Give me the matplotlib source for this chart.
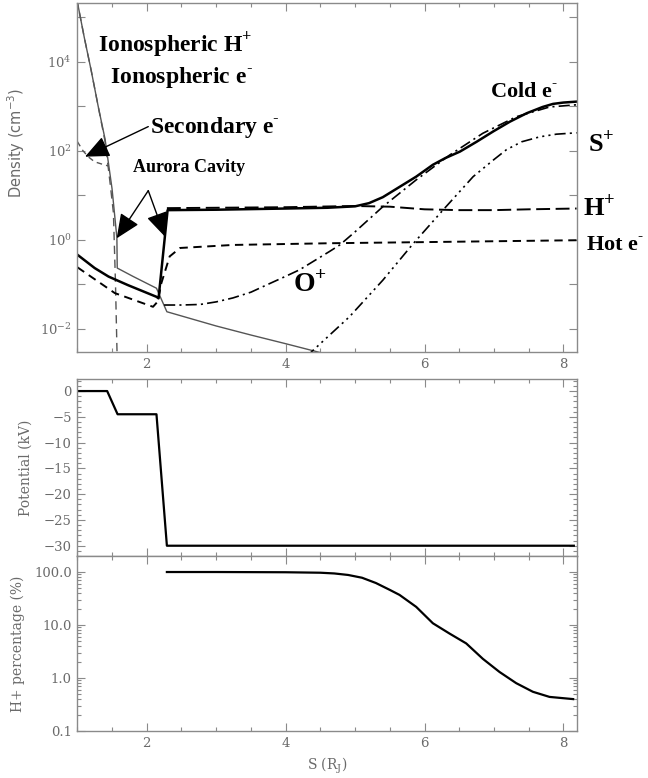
import math
import matplotlib
matplotlib.use("Agg")
import matplotlib.pyplot as plt
from matplotlib.ticker import MultipleLocator, FixedLocator, FuncFormatter, LogLocator, NullFormatter, NullLocator

plt.rcParams["font.family"] = "DejaVu Serif"
plt.rcParams["mathtext.fontset"] = "custom"
plt.rcParams["mathtext.rm"] = "DejaVu Serif"
plt.rcParams["mathtext.bf"] = "Liberation Serif:bold"
plt.rcParams["mathtext.sf"] = "DejaVu Sans"
plt.rcParams["lines.scale_dashes"] = False

# ---- density panel (cm^-3) vs S (R_J) ----
ion_h_x = [0.98, 1.1, 1.2, 1.3, 1.4, 1.5, 1.57, 1.575, 1.8, 2.14, 2.29, 3.0, 3.5, 4.0, 4.5]
ion_h_y = [3.2e5, 3.5e4, 6.3e3, 1.0e3, 180, 14, 1.1, 0.23, 0.15, 0.081, 0.024, 0.0115, 0.0072, 0.0046, 0.0029]

ion_e_x = [0.98, 1.1, 1.2, 1.3, 1.4, 1.47, 1.52, 1.55, 1.57, 1.58]
ion_e_y = [3.2e5, 3.5e4, 6.3e3, 1.0e3, 160, 20, 4.0, 0.1, 0.004, 0.001]

sec_e_x = [1.0, 1.08, 1.16, 1.25, 1.35, 1.45]
sec_e_y = [160, 100, 72, 56, 50, 45]

cold_e_x = [1.0, 1.25, 1.45, 1.73, 2.14, 2.17, 2.30, 3.0, 4.0, 4.6, 5.0, 5.2, 5.4, 5.6, 5.88,
            6.12, 6.3, 6.51, 6.75, 6.99, 7.23, 7.47, 7.7, 7.85, 8.0, 8.19]
cold_e_y = [0.46, 0.23, 0.148, 0.095, 0.052, 0.048, 4.6, 4.7, 5.0, 5.2, 5.6, 6.6, 9.0, 14, 26,
            48, 68, 95, 158, 270, 447, 690, 955, 1120, 1200, 1260]

h_x = [2.29, 3.0, 4.0, 5.0, 5.5, 6.0, 6.5, 7.0, 7.5, 8.19]
h_y = [5.1, 5.2, 5.35, 5.7, 5.5, 4.8, 4.6, 4.6, 4.8, 5.0]

hot_e_x = [1.0, 1.54, 2.09, 2.16, 2.21, 2.33, 2.48, 3.24, 4.63, 6.0, 7.0, 8.19]
hot_e_y = [0.24, 0.063, 0.031, 0.041, 0.105, 0.42, 0.65, 0.76, 0.83, 0.88, 0.92, 0.97]

o_x = [2.25, 2.5, 2.77, 3.0, 3.24, 3.5, 3.72, 4.0, 4.2, 4.63, 4.78, 5.0, 5.4, 5.88, 6.36,
       6.84, 7.32, 7.8, 8.19]
o_y = [0.034, 0.034, 0.035, 0.040, 0.049, 0.066, 0.095, 0.15, 0.21, 0.54, 0.76, 1.5, 5.5, 22, 79,
       245, 575, 955, 1070]

s_x = [4.30, 4.37, 4.92, 5.40, 5.83, 6.27, 6.70, 7.0, 7.18, 7.4, 7.66, 7.9, 8.19]
s_y = [0.0022, 0.003, 0.0186, 0.123, 0.79, 4.7, 26, 63, 105, 158, 204, 234, 251]

# ---- potential panel (kV) ----
pot_x = [1.0, 1.43, 1.58, 2.14, 2.29, 8.15]
pot_y = [0, 0, -4.5, -4.5, -30, -30]

# ---- H+ percentage panel ----
pct_x = [2.29, 3.0, 4.0, 4.5, 4.7, 4.9, 5.1, 5.3, 5.5, 5.64, 5.88, 6.12, 6.36, 6.6, 6.84,
         7.08, 7.32, 7.56, 7.8, 8.14]
pct_y = [100, 100, 99, 97, 94, 88, 78, 62, 46, 37, 22, 10.8, 6.9, 4.5, 2.3,
         1.3, 0.8, 0.55, 0.44, 0.40]

GRAY = "#8a8a8a"
TXT = "#6a6a6a"

fig = plt.figure(figsize=(6.48, 7.78), dpi=100)
ax1 = fig.add_axes([0.1193, 0.5472, 0.7716, 0.4486])
ax2 = fig.add_axes([0.1193, 0.2857, 0.7716, 0.2267])
ax3 = fig.add_axes([0.1193, 0.0604, 0.7716, 0.2253])


def style(ax):
    for sp in ax.spines.values():
        sp.set_color(GRAY)
        sp.set_linewidth(1)
    ax.tick_params(which="both", direction="in", top=True, right=True, color=GRAY,
                   labelcolor=TXT, labelsize=9.5, pad=4)
    ax.tick_params(which="major", length=6, width=0.8)
    ax.tick_params(which="minor", length=3, width=0.8)
    ax.set_xlim(1.0, 8.2)
    ax.xaxis.set_major_locator(MultipleLocator(2))
    ax.xaxis.set_minor_locator(MultipleLocator(0.5))


def decade_label(v, pos):
    k = round(math.log10(v))
    return "$10^{%d}$" % k if k % 2 == 0 else ""


for ax in (ax1, ax2, ax3):
    style(ax)

# density
ax1.set_yscale("log")
ax1.set_ylim(2.95e-3, 2.04e5)
ax1.yaxis.set_major_locator(FixedLocator([10.0 ** k for k in range(-2, 6)]))
ax1.yaxis.set_minor_locator(NullLocator())
ax1.yaxis.set_major_formatter(FuncFormatter(decade_label))

ax1.plot(ion_h_x, ion_h_y, color="#555555", lw=1.0)
ax1.plot(ion_e_x, ion_e_y, color="#555555", lw=1.0, dashes=(6, 4))
ax1.plot(sec_e_x, sec_e_y, color="#555555", lw=1.0, dashes=(4, 3))
ax1.plot(cold_e_x, cold_e_y, color="black", lw=1.8)
ax1.plot(h_x, h_y, color="black", lw=1.4, dashes=(10, 4))
ax1.plot(hot_e_x, hot_e_y, color="black", lw=1.4, dashes=(6, 4))
ax1.plot(o_x, o_y, color="black", lw=1.2, dashes=(8, 3, 1.5, 3))
ax1.plot(s_x, s_y, color="black", lw=1.2, dashes=(8, 3, 1.5, 3, 1.5, 3, 1.5, 3))

ax1.set_ylabel("Density (cm$^{\\mathsf{-3}}$)", family="DejaVu Sans", color=TXT, fontsize=10.5)
ax1.yaxis.set_label_coords(-0.10, 0.6)

PLUS = "$^{\\mathbf{+}}$"
MINUS = "$^{\\mathbf{\\text{-}}}$"
lab = dict(family="Liberation Serif", weight="bold", color="black", va="center", ha="left")
ax1.text(1.30, 23700, "Ionospheric H" + PLUS, fontsize=17, **lab)
ax1.text(1.47, 4300, "Ionospheric e" + MINUS, fontsize=17, **lab)
ax1.text(2.05, 325, "Secondary e" + MINUS, fontsize=17, **lab)
ax1.text(1.80, 41, "Aurora Cavity", fontsize=13, **lab)
ax1.text(6.94, 2090, "Cold e" + MINUS, fontsize=16, **lab)
ax1.text(8.35, 141, "S" + PLUS, fontsize=19, clip_on=False, **lab)
ax1.text(8.28, 5.4, "H" + PLUS, fontsize=19, clip_on=False, **lab)
ax1.text(8.33, 0.76, "Hot e" + MINUS, fontsize=16, clip_on=False, **lab)
ax1.text(4.11, 0.095, "O" + PLUS, fontsize=20, **lab)

arrow = dict(arrowstyle="-|>,head_length=0.75,head_width=0.33", mutation_scale=20,
             color="black", lw=1.0, shrinkA=0, shrinkB=0)
ax1.annotate("", xy=(1.111, 73), xytext=(2.022, 346), arrowprops=arrow)
ax1.annotate("", xy=(1.567, 1.07), xytext=(2.022, 12.6), arrowprops=arrow)
ax1.annotate("", xy=(2.262, 1.17), xytext=(2.022, 12.6), arrowprops=arrow)

# potential
ax2.plot(pot_x, pot_y, color="black", lw=1.6)
ax2.set_ylim(-31.94, 2.27)
ax2.yaxis.set_major_locator(MultipleLocator(5))
ax2.yaxis.set_minor_locator(MultipleLocator(1))
ax2.xaxis.set_major_formatter(NullFormatter())
ax2.set_ylabel("Potential (kV)", color=TXT, fontsize=10)
ax2.yaxis.set_label_coords(-0.089, 0.5)

# H+ percentage
ax3.plot(pct_x, pct_y, color="black", lw=1.6)
ax3.set_yscale("log")
ax3.set_ylim(0.1, 203)
ax3.yaxis.set_major_locator(FixedLocator([0.1, 1, 10, 100]))
ax3.yaxis.set_major_formatter(FuncFormatter(lambda v, p: "%.1f" % v))
ax3.yaxis.set_minor_locator(LogLocator(base=10, subs=range(2, 10)))
ax3.yaxis.set_minor_formatter(NullFormatter())
ax3.set_ylabel("H+ percentage (%)", color=TXT, fontsize=10)
ax3.yaxis.set_label_coords(-0.105, 0.5)
ax3.set_xlabel("S (R$_{\\mathrm{J}}$)", color=TXT, fontsize=10)
ax3.xaxis.set_label_coords(0.5, -0.14)

fig.savefig("out.png", dpi=100)
